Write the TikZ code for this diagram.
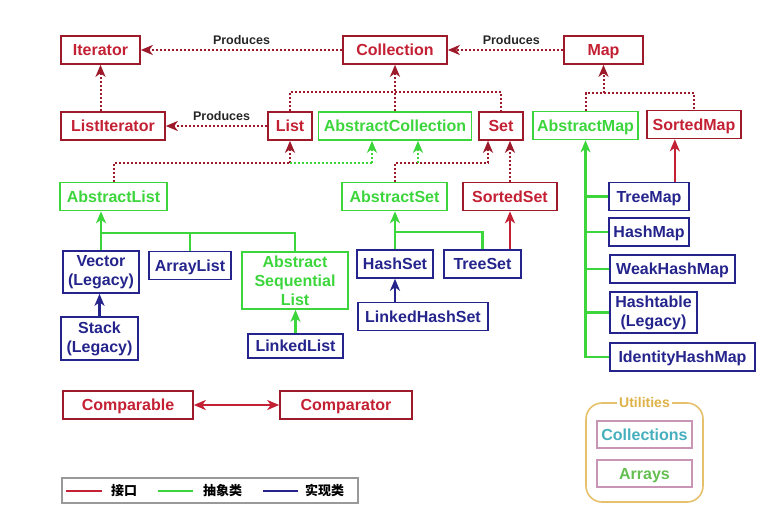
\documentclass[tikz,border=0pt]{standalone}
\usepackage{fontspec}
\setmainfont{Liberation Sans}
\newfontfamily\cjk{Noto Sans CJK SC}
\usepackage{tikz}
\usetikzlibrary{arrows.meta}

\definecolor{ifred}{RGB}{196,32,52}
\definecolor{absgreen}{RGB}{60,214,60}
\definecolor{impblue}{RGB}{36,36,140}
\definecolor{utilgold}{RGB}{222,178,70}
\definecolor{utilpink}{RGB}{200,150,180}
\definecolor{utilteal}{RGB}{70,175,190}
\definecolor{utilgreen}{RGB}{100,190,80}

\begin{document}
\begin{tikzpicture}[x=1pt,y=-1pt,
  box/.style={draw,line width=1.6pt,inner sep=0pt,align=center,
              minimum height=28pt,text height=13.5pt,text depth=2pt,
              font=\fontsize{16}{19}\selectfont\bfseries},
  multi/.style={text height=,text depth=},
  iface/.style={box,draw=ifred!80!black,text=ifred},
  abstr/.style={box,draw=absgreen,text=absgreen},
  impl/.style={box,draw=impblue,text=impblue},
  tip/.style={-{Stealth[length=12pt,width=10pt,inset=3.5pt]}},
  ifdot/.style={draw=ifred!80!black,line width=2pt,dash pattern=on 2pt off 2pt},
  absdot/.style={draw=absgreen,line width=2pt,dash pattern=on 2pt off 2pt},
  ifline/.style={draw=ifred,line width=2.5pt},
  absline/.style={draw=absgreen,line width=2.5pt},
  impline/.style={draw=impblue,line width=2.5pt},
  lbl/.style={font=\fontsize{12.5}{14}\selectfont\bfseries,text=black!85},
  legtxt/.style={anchor=west,inner sep=0pt,font=\cjk\fontsize{13}{15}\selectfont\bfseries},
]
  \useasboundingbox (0,0) rectangle (767,519);

  \node[iface,minimum width=79pt]  (iter)   at (100.5,50) {Iterator};
  \node[iface,minimum width=104pt] (coll)   at (395,50)   {Collection};
  \node[iface,minimum width=79pt]  (map)    at (603.5,50) {Map};

  \node[iface,minimum width=104pt] (listit) at (113,126)   {ListIterator};
  \node[iface,minimum width=44pt]  (list)   at (290,126)   {List};
  \node[abstr,minimum width=153pt] (abscol) at (395,126)   {AbstractCollection};
  \node[iface,minimum width=44pt]  (set)    at (501,126)   {Set};
  \node[abstr,minimum width=105pt] (amap)   at (585.5,125.5) {AbstractMap};
  \node[iface,minimum width=94pt]  (smap)   at (694,124.5) {SortedMap};

  \node[abstr,minimum width=107pt] (alist)  at (113.5,196.5) {AbstractList};
  \node[abstr,minimum width=105pt] (aset)   at (394.5,196.5) {AbstractSet};
  \node[iface,minimum width=94pt]  (sset)   at (510,196.5)   {SortedSet};

  \node[impl,multi,minimum width=76pt,minimum height=42pt]  (vector)  at (101,272)     {Vector\\(Legacy)};
  \node[impl,minimum width=82pt]                            (arrlist) at (190,265.5)   {ArrayList};
  \node[abstr,multi,minimum width=106pt,minimum height=57pt] (asl)    at (295,280.5)   {Abstract\\Sequential\\List};
  \node[impl,multi,minimum width=77pt,minimum height=43pt]  (stack)   at (99.5,338.5)  {Stack\\(Legacy)};
  \node[impl,minimum width=95pt,minimum height=24pt]        (llist)   at (295.5,346)   {LinkedList};
  \node[impl,minimum width=76pt]                            (hset)    at (395,264)     {HashSet};
  \node[impl,minimum width=77pt]                            (tset)    at (482.5,264)   {TreeSet};
  \node[impl,minimum width=130pt]                           (lhset)   at (423,316.5)   {LinkedHashSet};

  \node[impl,minimum width=80pt]                            (tmap)    at (649,196.5)   {TreeMap};
  \node[impl,minimum width=80pt]                            (hmap)    at (649,232)     {HashMap};
  \node[impl,minimum width=125pt]                           (whmap)   at (672.5,269)   {WeakHashMap};
  \node[impl,multi,minimum width=87pt,minimum height=41pt]  (htab)    at (653.5,312.5) {Hashtable\\(Legacy)};
  \node[impl,minimum width=145pt]                           (idmap)   at (682.5,357)   {IdentityHashMap};

  \node[iface,minimum width=130pt] (cmpable) at (128,405) {Comparable};
  \node[iface,minimum width=132pt] (cmptor)  at (346,405) {Comparator};

  \coordinate (cbus)   at (395,92);
  \coordinate (mbus)   at (603.5,93);
  \coordinate (albus)  at (290,163);
  \coordinate (acbus)  at (372,163);
  \coordinate (asbus)  at (488,163);
  \coordinate (acbus2) at (418,163);
  \coordinate (lsbus)  at (295,233);
  \coordinate (ssbus)  at (482.5,232);

  \draw[ifdot,tip] (coll) -- node[lbl,above=1pt] {Produces} (iter);
  \draw[ifdot,tip] (map) -- node[lbl,above=1pt,pos=0.45] {Produces} (coll);
  \draw[ifdot,tip] (list) -- node[lbl,above=1pt,pos=0.45] {Produces} (listit);
  \draw[ifdot,tip] (iter.south |- listit.north) -- (iter.south);

  \draw[ifdot] (list.north) |- (cbus) -| (set.north);
  \draw[ifdot,tip] (abscol.north) -- (coll.south);
  \draw[ifdot] (amap.north) |- (mbus) -| (smap.north);
  \draw[ifdot,tip] (mbus) -- (map.south);

  \draw[ifdot] (alist.north) |- (albus);
  \draw[ifdot,tip] (albus) -- (list.south);
  \draw[absdot] (albus) -- (acbus);
  \draw[absdot,tip] (acbus) -- (acbus |- abscol.south);
  \draw[ifdot] (aset.north) |- (asbus);
  \draw[ifdot,tip] (asbus) -- (asbus |- set.south);
  \draw[absdot,tip] (acbus2) -- (acbus2 |- abscol.south);
  \draw[ifdot,tip] (sset.north) -- (sset.north |- set.south);

  \draw[absline,tip] (vector.north) -- (vector.north |- alist.south);
  \draw[absline] (vector.north |- lsbus) -- (lsbus) -- (asl.north);
  \draw[absline] (arrlist.north) -- (arrlist.north |- lsbus);
  \draw[impline,tip] (stack.north) -- (stack.north |- vector.south);
  \draw[absline,tip] (llist.north) -- (llist.north |- asl.south);

  \draw[absline,tip] (hset.north) -- (hset.north |- aset.south);
  \draw[absline] (hset.north |- ssbus) -| (tset.north);
  \draw[ifline,tip] (tset.north -| sset.south) -- (sset.south);
  \draw[impline,tip] (hset.south |- lhset.north) -- (hset.south);

  \draw[absline,tip] (idmap.west) -| (amap.south);
  \foreach \m in {tmap,hmap,whmap,htab}
    \draw[absline] (\m.west) -- (\m.west -| amap.south);
  \draw[ifline,tip] ([xshift=-15pt]tmap.north east) -- ([xshift=-15pt]tmap.north east |- smap.south);

  \draw[ifline,line width=2pt,{Stealth[length=12pt,width=10pt,inset=3.5pt]}-{Stealth[length=12pt,width=10pt,inset=3.5pt]}] (cmpable) -- (cmptor);

  \node[draw=black!40,line width=1.2pt,minimum width=296pt,minimum height=25pt] (legend) at (210,490.5) {};
  \draw[ifline,line width=2pt] (66,490.5) -- (102,490.5);
  \node[legtxt] (lgif) at (111,490.5) {接口};
  \draw[absline,line width=2pt] (158,490.5) -- (193,490.5);
  \node[legtxt] (lgabs) at (203,490.5) {抽象类};
  \draw[impline,line width=2pt] (263,490.5) -- (298,490.5);
  \node[legtxt] (lgimp) at (305,490.5) {实现类};

  \node[draw=utilgold!80,line width=1.6pt,rounded corners=16pt,minimum width=117pt,minimum height=99pt] (util) at (644.5,452.5) {};
  \node[fill=white,text=utilgold,inner sep=2pt,font=\fontsize{14}{16}\selectfont\bfseries] (utitle) at (util.north) {Utilities};
  \node[box,draw=utilpink,text=utilteal,minimum width=95pt,minimum height=27pt] (colls)  at (644.5,434.5) {Collections};
  \node[box,draw=utilpink,text=utilgreen,minimum width=95pt,minimum height=27pt] (arrays) at (644.5,473.5) {Arrays};
\end{tikzpicture}
\end{document}
